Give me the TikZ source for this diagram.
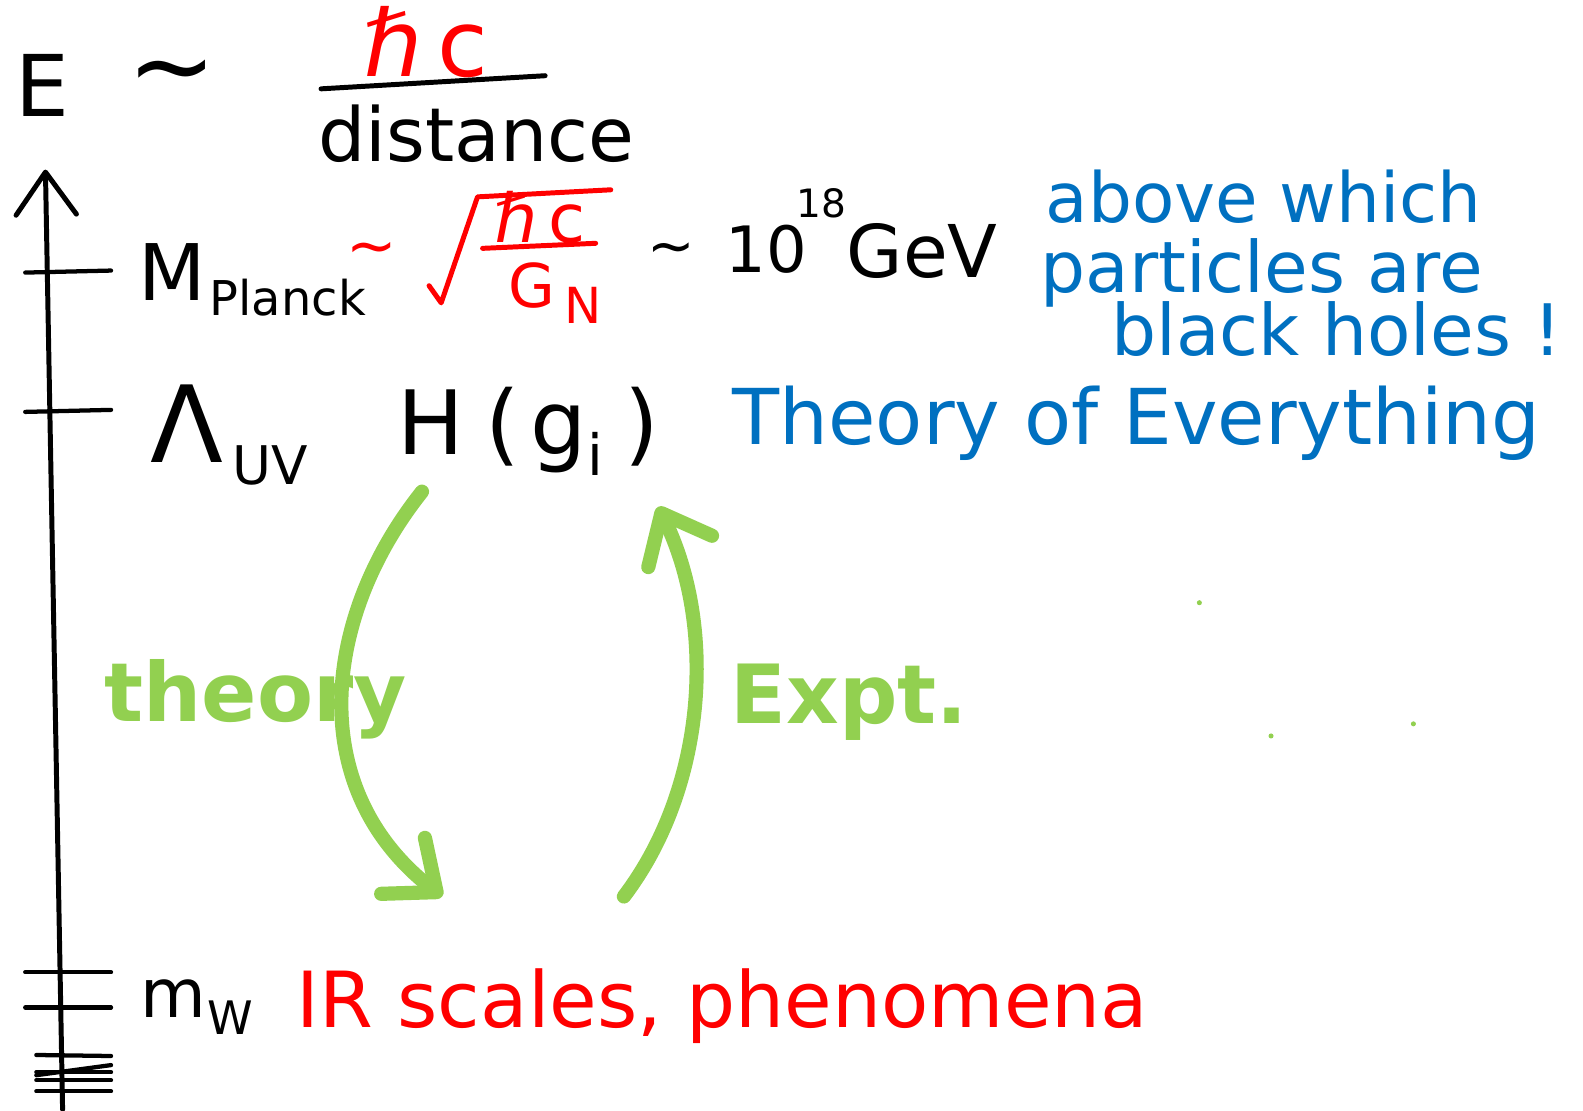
\documentclass[tikz,border=0pt]{standalone}
\usepackage{fontspec}
\setmainfont{DejaVu Sans}
\usetikzlibrary{arrows.meta}
\definecolor{inkred}{RGB}{255,0,0}
\definecolor{inkblue}{RGB}{0,112,192}
\definecolor{inkgreen}{RGB}{146,208,80}

\begin{document}
\begin{tikzpicture}[
  x=0.01cm, y=-0.01cm,
  txt/.style={inner sep=0pt, anchor=base west, font=\fontsize{#1}{#1}\selectfont},
  ctr/.style={inner sep=0pt, anchor=center, font=\fontsize{#1}{#1}\selectfont},
  gtxt/.style={inner sep=0pt, anchor=base west, text=inkgreen, font=\fontsize{#1}{#1}\selectfont\bfseries},
  ink/.style={line width=1.4pt, line cap=round, line join=round},
  tick/.style={line width=1.2pt, line cap=round},
  garr/.style={draw=inkgreen, line width=4pt, line cap=round,
               -{Straight Barb[length=12pt, width=20pt, round]}}
]
\useasboundingbox (0,0) rectangle (1568,1100);

% E ~ hbar c / distance
\node[txt=24] (E) at (15,115) {E};
\node[ctr=30] (sim) at (170,80) {∼};
\node[ctr=26, anchor=base, text=inkred] (hc) at (422,76) {ℏ\,c};
\coordinate (barL) at (318,88);
\coordinate (barR) at (540,75);
\draw[ink] (barL) -- (barR);
\node[ctr=21, anchor=base] (dist) at (472,160) {distance};

% energy axis
\coordinate (axbot) at (62,1099);
\coordinate (axtop) at (45,168);
\draw[ink, -{Straight Barb[length=12pt, width=17pt, round]}] (axbot) -- (axtop);
\foreach \ya/\yb in {270/268, 408/406, 963/963, 998/998}
  \draw[tick] (25,\ya) -- (110,\yb);
\foreach \ya/\yb in {1045/1046, 1065/1055, 1062/1062, 1070/1070, 1081/1081}
  \draw[tick] (36,\ya) -- (110,\yb);

% Planck scale
\node[txt=22] (M) at (136,298) {M};
\node[txt=13.5] (Mpl) at (207,313) {Planck};
\node[ctr=17, text=inkred] (rsim) at (368,252) {∼};
\draw[ink, draw=inkred] (425,283) -- (437,300) -- (473,195) -- (605,188);
\node[ctr=19, anchor=base, text=inkred] (hc2) at (535,240) {ℏ\,c};
\draw[ink, draw=inkred] (478,246) -- (590,241);
\node[txt=17, text=inkred] (G) at (503,305) {G};
\node[txt=14, text=inkred] (Gsub) at (558,320) {N};
\node[ctr=16] (sim2) at (665,252) {∼};
\node[txt=18] (ten) at (718,270) {10};
\node[txt=11] (expo) at (788,215) {18};
\node[txt=20.5] (gev) at (838,275) {GeV};

\node[txt=19.5, text=inkblue] (ab1) at (1035,220) {above which};
\node[txt=20, text=inkblue] (ab2) at (1030,290) {particles are};
\node[txt=20, text=inkblue] (ab3) at (1100,352) {black holes !};

% UV scale
\node[txt=30] (lam) at (148,458) {Λ};
\node[txt=15] (uv) at (230,480) {UV};
\node[txt=25] (hg) at (393,450)
  {H\hspace{6pt}(\hspace{3pt}g\raisebox{-6pt}{\fontsize{16}{16}\selectfont i}\hspace{6pt})};
\node[txt=21.7, text=inkblue] (toe) at (725,440) {Theory of Everything};

% theory / experiment
\coordinate (thtop) at (418,487);
\coordinate (thbot) at (438,888);
\draw[garr] (thtop) .. controls (320,610) and (300,780) .. (thbot);
\coordinate (exbot) at (618,888);
\coordinate (extop) at (652,502);
\draw[garr] (exbot) .. controls (700,780) and (710,620) .. (extop);
\node[gtxt=23] (thy) at (103,715) {theory};
\node[gtxt=23] (expt) at (723,717) {Expt.};
\foreach \p in {(1188,597),(1259,729),(1400,717)}
  \fill[inkgreen] \p circle (2.5);

% IR scale
\node[txt=19] (mw) at (138,1008) {m};
\node[txt=13] (wsub) at (205,1025) {W};
\node[txt=21.8, text=inkred] (ir) at (293,1018) {IR scales, phenomena};

\end{tikzpicture}
\end{document}
